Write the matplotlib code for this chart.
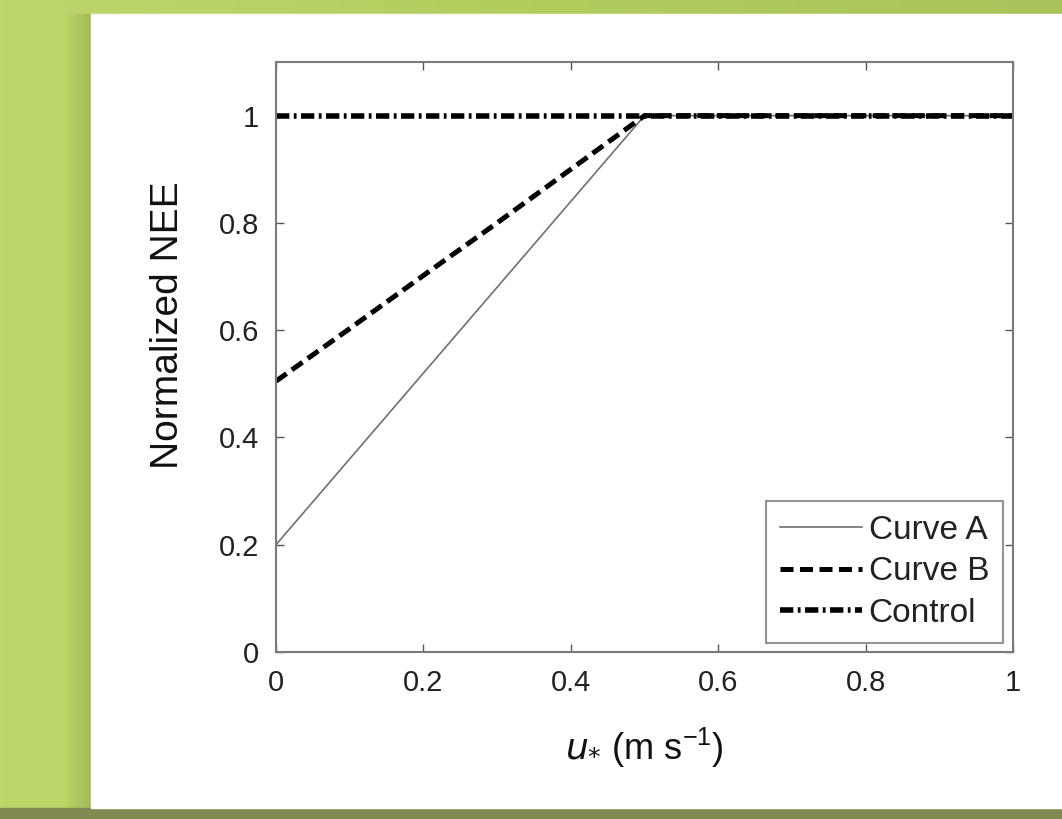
import matplotlib
matplotlib.use('Agg')
import matplotlib.pyplot as plt
import numpy as np
from matplotlib.patches import Rectangle

plt.rcParams['font.family'] = ['Liberation Sans', 'DejaVu Sans']
plt.rcParams['axes.unicode_minus'] = False

# data
x_a = [0.0, 0.5, 1.0]
y_a = [0.2, 1.0, 1.0]
x_b = [0.0, 0.1, 0.2, 0.3, 0.4, 0.5, 1.0]
y_b = [0.505, 0.603, 0.702, 0.80, 0.90, 1.0, 1.0]
x_ctrl = [0.0, 1.0]
y_ctrl = [1.0, 1.0]
labels = ['Curve A', 'Curve B', 'Control']
ticks = [0, 0.2, 0.4, 0.6, 0.8, 1]
tick_labels = ['0', '0.2', '0.4', '0.6', '0.8', '1']

W, H = 1062, 819
fig = plt.figure(figsize=(W / 100, H / 100), dpi=100)

# green slide background
bg = fig.add_axes([0, 0, 1, 1])
bg.set_xlim(0, W)
bg.set_ylim(H, 0)
bg.axis('off')
grad = np.linspace(0, 1, 256)[None, :]
bg.imshow(grad, extent=(0, W, H, 0), cmap=matplotlib.colors.LinearSegmentedColormap.from_list(
    'g', ['#bdd66c', '#b2cd5e', '#a9c35a']), aspect='auto')
bg.add_patch(Rectangle((0, 808), W, 11, color='#7e8a52'))
shadow = np.linspace(0, 1, 64)[None, :]
bg.imshow(shadow, extent=(66, 91, 808, 14), cmap=matplotlib.colors.LinearSegmentedColormap.from_list(
    's', ['#b9d468', '#a3b958']), aspect='auto')
bg.add_patch(Rectangle((91, 14), W - 91, 794, color='white'))

# main axes (pixel box 276..1013 x 62..652)
ax = fig.add_axes([276 / W, 1 - 652 / H, (1013 - 276) / W, (652 - 62) / H])
ax.plot(x_a, y_a, color='#707070', lw=1.2, label=labels[0])
ax.plot(x_b, y_b, color='black', lw=3.6, ls=(0, (2.6, 1.3)), label=labels[1])
ax.plot(x_ctrl, y_ctrl, color='black', lw=4.0, ls=(0, (2.4, 0.8, 0.5, 0.8)), label=labels[2])

ax.set_xlim(0, 1)
ax.set_ylim(0, 1.1)
ax.set_xticks(ticks)
ax.set_xticklabels(tick_labels)
ax.set_yticks(ticks)
ax.set_yticklabels(tick_labels)
ax.tick_params(direction='in', length=6, width=1, color='#555555', labelsize=21,
               labelcolor='#222222', top=True, right=True, pad=12)
for s in ax.spines.values():
    s.set_color('#7a7a7a')
    s.set_linewidth(1.5)

ax.set_ylabel('Normalized NEE', fontsize=28, color='#111111')
ax.yaxis.set_label_coords(-0.122, 0.554)
ax.set_xlabel(r'$u_{*}$' + r' (m s$^{\mathregular{-1}}$)', fontsize=26, color='#111111')
ax.xaxis.set_label_coords(0.5, -0.125)

leg = ax.legend(loc='lower right', bbox_to_anchor=(0.9865, 0.015), borderaxespad=0,
                fontsize=24, frameon=True, fancybox=False, handlelength=2.45,
                handletextpad=0.2, labelspacing=0.32, borderpad=0.42)
leg.get_frame().set_edgecolor('#7a7a7a')
leg.get_frame().set_linewidth(1.5)
for t in leg.get_texts():
    t.set_color('#222222')

fig.savefig('out.png', dpi=100)
